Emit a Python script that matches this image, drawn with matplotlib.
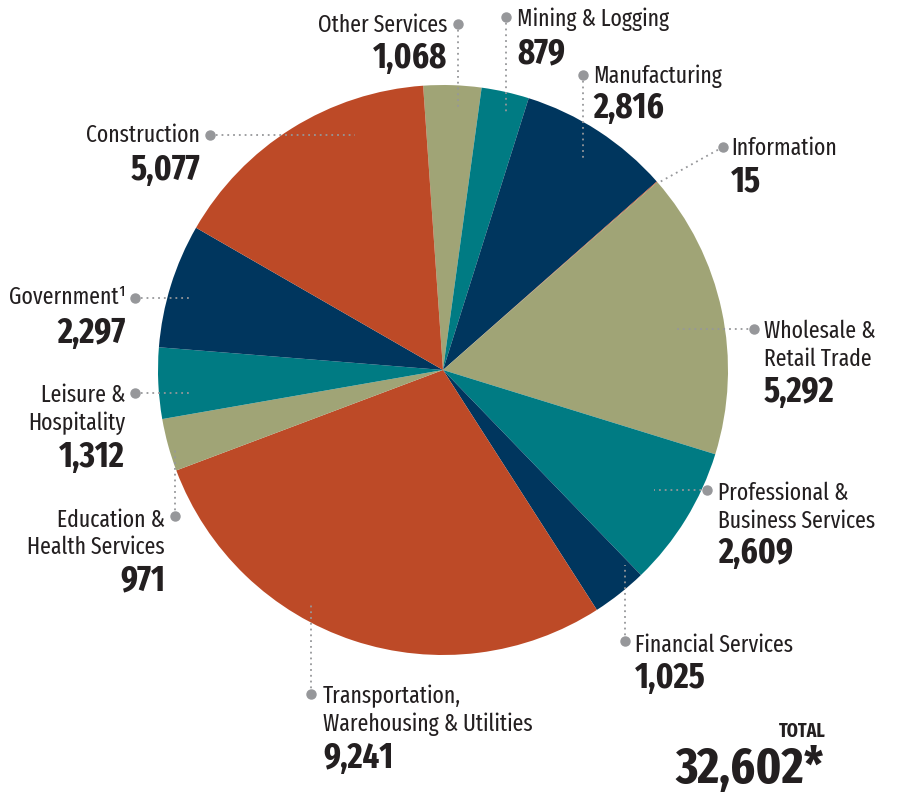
import os
import matplotlib
matplotlib.use("Agg")
import matplotlib.pyplot as plt
from matplotlib import font_manager

# Data
sectors = ["Other Services", "Mining & Logging", "Manufacturing", "Information",
           "Wholesale &\nRetail Trade", "Professional &\nBusiness Services",
           "Financial Services", "Transportation,\nWarehousing & Utilities",
           "Education &\nHealth Services", "Leisure &\nHospitality",
           "Government\u00b9", "Construction"]
jobs = [1068, 879, 2816, 15, 5292, 2609, 1025, 9241, 971, 1312, 2297, 5077]
total_label = "32,602*"

# Palette repeats olive, teal, navy, rust
palette = ["#A0A476", "#007B83", "#00365E", "#BD4A27"]
colors = [palette[i % 4] for i in range(len(jobs))]


def weight_of(f):
    w = f.weight
    if isinstance(w, str):
        w = font_manager.weight_dict.get(w, 400)
    return w


def pick(keys, bold):
    # first font file whose name has one of the keys, in order of keys
    for key in keys:
        for f in font_manager.fontManager.ttflist:
            base = os.path.basename(f.fname).lower().replace("-", "").replace("_", "")
            if key not in base or f.style != 'normal':
                continue
            if key == "condensed" and ("extra" in base or "semi" in base or "ultra" in base):
                continue
            w = weight_of(f)
            if (bold and w == 700) or (not bold and w == 400):
                return font_manager.FontProperties(fname=f.fname), key
    return None, None


reg_fp, rkey = pick(["extracondensed", "condensed", "narrow"], False)
bold_fp, bkey = pick(["extracondensed", "condensed", "narrow"], True)
if reg_fp is None:
    reg_fp = font_manager.FontProperties(family="DejaVu Sans")
if bold_fp is None:
    bold_fp = font_manager.FontProperties(family="DejaVu Sans", weight="bold")
name_size = 17 if rkey == "extracondensed" else 15
num_size = 25.5 if bkey == "extracondensed" else 22
tot_size = 14
total_size = 37 if bkey == "extracondensed" else 32

W, H = 898, 798
fig = plt.figure(figsize=(W / 100, H / 100), dpi=100)
ax = fig.add_axes([0, 0, 1, 1])

def Y(y):
    # pixel row -> data y
    return H - y

ax.pie(jobs, colors=colors, startangle=94, counterclock=False,
       center=(443, Y(370)), radius=285,
       wedgeprops=dict(linewidth=0))
ax.set_xlim(0, W)
ax.set_ylim(0, H)
ax.set_aspect('equal')
ax.axis('off')

# label layout: (text x, align, first name baseline, number baseline, dot, line end)
layout = [
    (447, 'right', 32, 68, (458, 24), (458, 108)),
    (517, 'left', 26, 63, (506, 17), (506, 113)),
    (593, 'left', 83, 118, (583, 75), (583, 161)),
    (731, 'left', 155, 192, (723, 147), (658, 183)),
    (764, 'left', 338, 402, (754, 329), (677, 329)),
    (718, 'left', 500, 563, (707, 490), (654, 490)),
    (635, 'left', 652, 688, (625, 641), (625, 565)),
    (323, 'left', 703, 768, (311, 694), (311, 603)),
    (165, 'right', 527, 590, (175, 516), (175, 447)),
    (125, 'right', 402, 467, (135, 393), (190, 393)),
    (126, 'right', 304, 343, (135, 298), (190, 298)),
    (200, 'right', 142, 180, (210, 135), (355, 135)),
]

text_c = "#231F20"
grey = "#96979A"
line_gap = 27.5

for name, val, (tx, ha, nb, vb, dot, end) in zip(sectors, jobs, layout):
    ax.plot([dot[0], end[0]], [Y(dot[1]), Y(end[1])], linestyle=(0, (1, 2.2)),
             color=grey, linewidth=1.3, zorder=3)
    ax.plot(dot[0], Y(dot[1]), 'o', color=grey, markersize=6.5, zorder=4)
    for k, ln in enumerate(name.split("\n")):
        ax.text(tx, Y(nb + k * line_gap), ln, ha=ha, va='baseline',
                fontproperties=reg_fp, fontsize=name_size, color=text_c)
    ax.text(tx, Y(vb), f"{val:,}", ha=ha, va='baseline', fontproperties=bold_fp,
            fontsize=num_size, color=text_c)

ax.text(826, Y(737), "TOTAL", ha='right', va='baseline', fontproperties=bold_fp,
        fontsize=tot_size, color=text_c)
ax.text(824, Y(783), total_label, ha='right', va='baseline', fontproperties=bold_fp,
        fontsize=total_size, color=text_c)

fig.savefig("out.png", dpi=100)
